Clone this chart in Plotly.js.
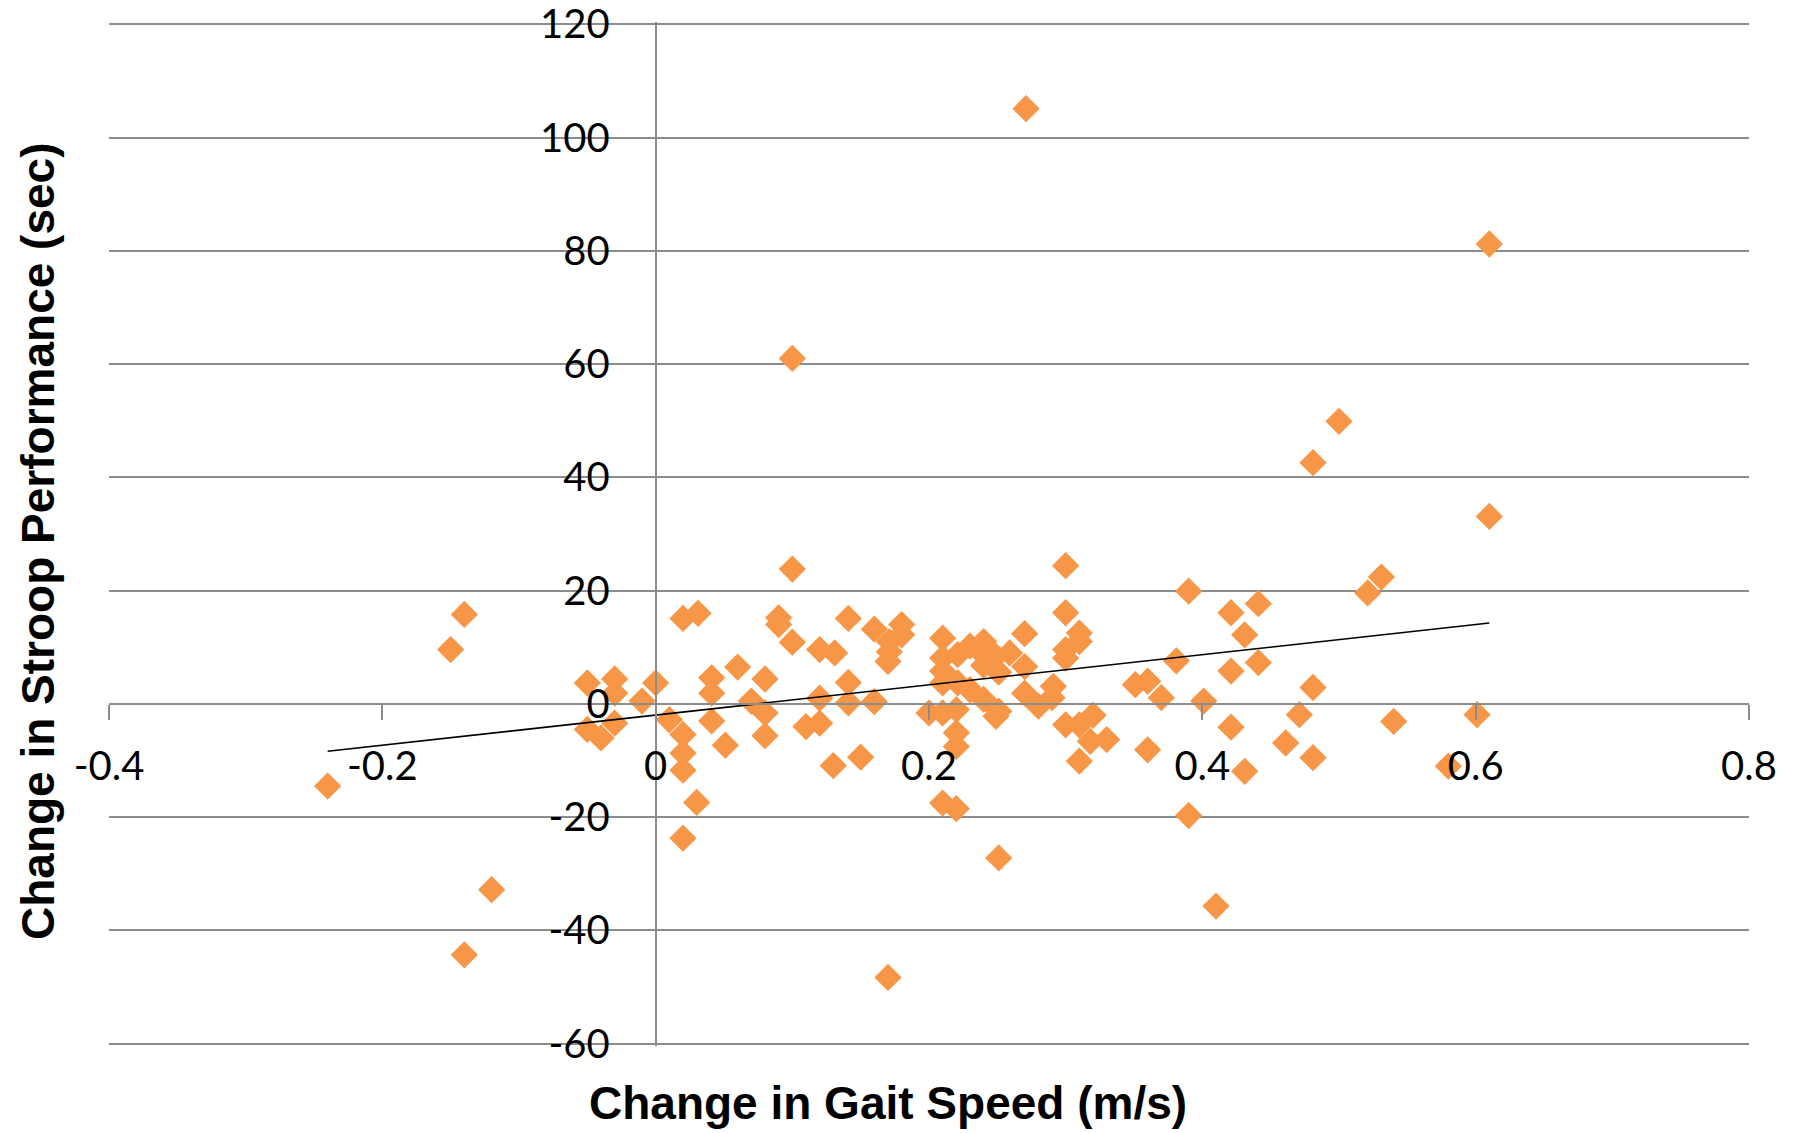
<!DOCTYPE html>
<html>
<head>
<meta charset="utf-8">
<script src="https://cdn.plot.ly/plotly-3.0.1.min.js"></script>
<style>html,body{margin:0;padding:0;background:#fff;}#chart{width:1796px;height:1133px;}</style>
</head>
<body>
<div id="chart"></div>
<script>
// Change in gait speed (m/s)
const gaitSpeed = [
  -0.240, -0.150, -0.140, -0.120, -0.140,
  -0.050, -0.030, -0.030, -0.010, 0.000, -0.050, -0.040, -0.030,
  0.010, 0.020, 0.020, 0.020, 0.030, 0.020, 0.020, 0.031,
  0.041, 0.041, 0.041, 0.051, 0.060, 0.080, 0.070, 0.080, 0.080,
  0.090, 0.090, 0.100, 0.100, 0.100,
  0.120, 0.131, 0.120, 0.110, 0.120, 0.130, 0.150,
  0.141, 0.141, 0.141, 0.160, 0.160, 0.171, 0.171, 0.170, 0.180, 0.180, 0.170,
  0.210, 0.210, 0.210, 0.210, 0.221, 0.221, 0.230, 0.240, 0.240, 0.249, 0.259,
  0.240, 0.251, 0.270, 0.270, 0.230, 0.240, 0.251, 0.249, 0.270, 0.280, 0.290, 0.291,
  0.200, 0.210, 0.220, 0.220, 0.220, 0.210, 0.220, 0.251, 0.271,
  0.300, 0.300, 0.310, 0.310, 0.300, 0.300, 0.300, 0.310, 0.320, 0.318, 0.330, 0.310,
  0.351, 0.360, 0.370, 0.360, 0.381, 0.390, 0.390, 0.401, 0.410,
  0.421, 0.421, 0.421, 0.431, 0.431, 0.441, 0.441,
  0.461, 0.471, 0.481, 0.481, 0.481, 0.500,
  0.521, 0.531, 0.540, 0.580, 0.601, 0.610, 0.610
];
// Change in Stroop performance (sec)
const stroopChange = [
  -14.5, 9.6, 15.8, -32.8, -44.3,
  3.7, 4.4, 1.9, 0.5, 3.7, -4.5, -6.0, -3.4,
  -2.8, -5.4, -8.7, -11.7, -17.4, -23.7, 15.1, 16.0,
  4.6, 1.9, -3.0, -7.3, 6.5, 4.4, 0.5, -1.6, -5.6,
  15.2, 14.0, 10.9, 23.8, 61.0,
  9.6, 9.0, 1.0, -4.0, -3.4, -10.9, -9.4,
  15.1, 3.8, 0.2, 0.4, 13.2, 11.0, 9.2, 7.5, 14.0, 12.2, -48.3,
  11.6, 8.1, 5.8, 3.7, 8.7, 3.7, 10.2, 11.0, 8.7, 8.4, 9.0,
  6.8, 5.6, 6.6, 12.4, 2.5, 0.8, -1.3, -2.2, 1.9, -0.4, 1.1, 3.1,
  -1.6, -1.6, -1.0, -5.1, -7.5, -17.5, -18.5, -27.2, 105.1,
  24.4, 16.1, 12.5, 11.0, 9.6, 8.1, -3.7, -3.7, -2.0, -6.6, -6.3, -10.1,
  3.4, 4.0, 1.1, -8.1, 7.6, 19.9, -19.7, 0.5, -35.7,
  16.1, 5.8, -4.1, 12.2, -11.9, 17.7, 7.3,
  -6.9, -1.9, 2.9, -9.5, 42.6, 49.9,
  19.6, 22.4, -3.1, -11.0, -1.9, 33.1, 81.2
];
const xTickVals = [-0.4, -0.2, 0, 0.2, 0.4, 0.6, 0.8];
const xTickText = ["-0.4", "-0.2", "0", "0.2", "0.4", "0.6", "0.8"];
const yTickVals = [-60, -40, -20, 0, 20, 40, 60, 80, 100, 120];
const yTickText = ["-60", "-40", "-20", "0", "20", "40", "60", "80", "100", "120"];
const xTitle = "Change in Gait Speed (m/s)";
const yTitle = "Change in Stroop Performance (sec)";

// Linear trendline (least squares) computed from the data
const n = gaitSpeed.length;
let sx = 0, sy = 0, sxx = 0, sxy = 0;
for (let i = 0; i < n; i++) {
  sx += gaitSpeed[i]; sy += stroopChange[i];
  sxx += gaitSpeed[i] * gaitSpeed[i]; sxy += gaitSpeed[i] * stroopChange[i];
}
const slope = (n * sxy - sx * sy) / (n * sxx - sx * sx);
const intercept = (sy - slope * sx) / n;
const xMin = Math.min(...gaitSpeed), xMax = Math.max(...gaitSpeed);
const trendX = [xMin, xMax];
const trendY = trendX.map(v => intercept + slope * v);

const gridColor = '#8c8c8c';
const tickFont = {family: 'Lato, "Open Sans", sans-serif', size: 40, color: '#000'};
const titleFont = {family: '"Liberation Sans Narrow", "Liberation Sans", sans-serif', size: 46, color: '#000', weight: 700};

// y range padded slightly so the 120 and -60 gridlines are kept inside the plot area
const yPad = 0.4;
const yLo = -60 - yPad, yHi = 120 + yPad;

const traces = [
  {
    type: 'scatter', mode: 'markers', x: gaitSpeed, y: stroopChange,
    marker: {symbol: 'diamond', size: 21, color: '#F79646', line: {width: 0}},
    hoverinfo: 'x+y', showlegend: false
  },
  {
    type: 'scatter', mode: 'lines', x: trendX, y: trendY,
    line: {color: '#000', width: 1.6}, hoverinfo: 'skip', showlegend: false
  }
];

const layout = {
  width: 1796, height: 1133,
  margin: {l: 109, r: 47, t: 22, b: 87, pad: 0},
  paper_bgcolor: '#fff', plot_bgcolor: '#fff',
  showlegend: false,
  xaxis: {
    range: [-0.4, 0.8], tickvals: xTickVals, ticktext: xTickText,
    anchor: 'free', position: (0 - yLo) / (yHi - yLo),
    showgrid: false, zeroline: false,
    showline: true, linecolor: gridColor, linewidth: 2,
    ticks: 'outside', ticklen: 15, tickwidth: 2, tickcolor: gridColor,
    tickfont: tickFont, ticklabelstandoff: 12, ticklabeloverflow: 'allow', fixedrange: true
  },
  yaxis: {
    range: [yLo, yHi], tickvals: yTickVals, ticktext: yTickText,
    anchor: 'free', position: 1/3,
    showgrid: true, gridcolor: gridColor, gridwidth: 2,
    zeroline: false,
    showline: true, linecolor: gridColor, linewidth: 2,
    ticks: 'outside', ticklen: 12, tickwidth: 2, tickcolor: gridColor,
    tickfont: tickFont, ticklabelstandoff: 25, ticklabeloverflow: 'allow', fixedrange: true
  },
  annotations: [
    {text: xTitle, xref: 'paper', yref: 'paper', x: (888-109)/1640, y: -(1103-1046)/1024,
     xanchor: 'center', yanchor: 'middle', showarrow: false, font: titleFont},
    {text: yTitle, xref: 'paper', yref: 'paper', x: -(109-38)/1640, y: (1046-541)/1024,
     xanchor: 'center', yanchor: 'middle', textangle: -90, showarrow: false, font: titleFont}
  ]
};

Plotly.newPlot('chart', traces, layout, {displayModeBar: false, staticPlot: true});
</script>
</body>
</html>
